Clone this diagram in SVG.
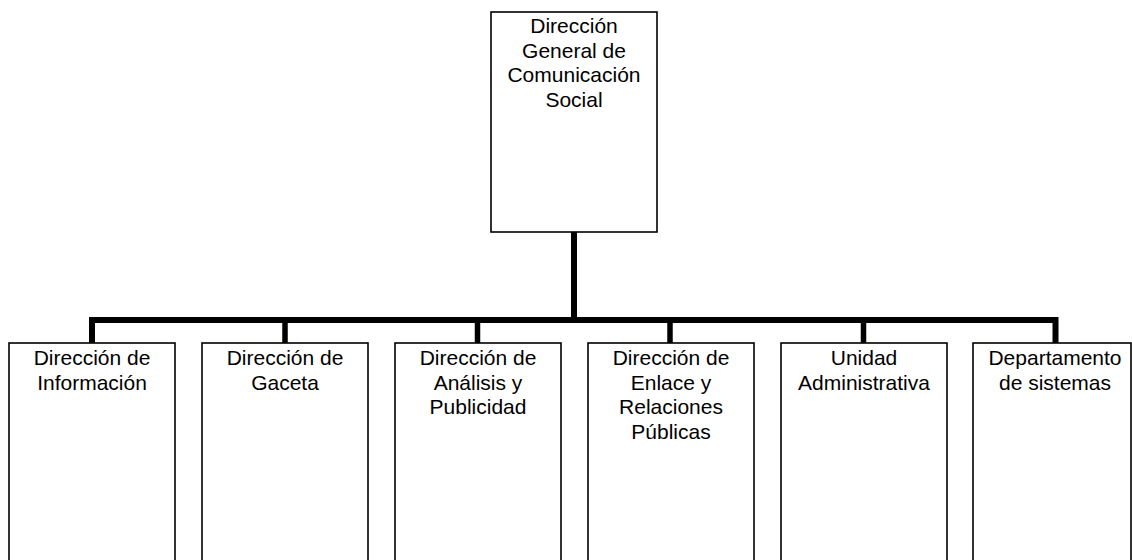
<svg xmlns="http://www.w3.org/2000/svg" width="1132" height="560" viewBox="0 0 1132 560">
<style>
.box{fill:#fff;stroke:#000;stroke-width:1.6}
.lbl{font-family:"Liberation Sans",Arial,sans-serif;font-size:21px;fill:#000;text-anchor:middle}
.con{fill:none;stroke:#000;stroke-width:6;stroke-linecap:butt;stroke-linejoin:miter}
.stub{fill:none;stroke:#000;stroke-width:5.5}
</style>
<rect width="1132" height="560" fill="#fff"/>
<g id="connectors">
<line class="con" x1="574" y1="232" x2="574" y2="323"/>
<polyline class="con" points="92,343 92,320 1055.5,320 1055.5,343"/>
<line class="stub" x1="285" y1="320" x2="285" y2="343"/>
<line class="stub" x1="477.5" y1="320" x2="477.5" y2="343"/>
<line class="stub" x1="670" y1="320" x2="670" y2="343"/>
<line class="stub" x1="863.5" y1="320" x2="863.5" y2="343"/>
</g>
<g id="n0">
<rect class="box" x="491" y="12" width="166" height="220"/>
<text class="lbl" x="574" y="33">Dirección</text>
<text class="lbl" x="574" y="57.6">General de</text>
<text class="lbl" x="574" y="82.2">Comunicación</text>
<text class="lbl" x="574" y="106.8">Social</text>
</g>
<g id="n1">
<rect class="box" x="9" y="343" width="166" height="230"/>
<text class="lbl" x="92" y="365">Dirección de</text>
<text class="lbl" x="92" y="389.5">Información</text>
</g>
<g id="n2">
<rect class="box" x="202" y="343" width="166" height="230"/>
<text class="lbl" x="285" y="365">Dirección de</text>
<text class="lbl" x="285" y="389.5">Gaceta</text>
</g>
<g id="n3">
<rect class="box" x="395" y="343" width="166" height="230"/>
<text class="lbl" x="478" y="365">Dirección de</text>
<text class="lbl" x="478" y="389.5">Análisis y</text>
<text class="lbl" x="478" y="414">Publicidad</text>
</g>
<g id="n4">
<rect class="box" x="588" y="343" width="166" height="230"/>
<text class="lbl" x="671" y="365">Dirección de</text>
<text class="lbl" x="671" y="389.5">Enlace y</text>
<text class="lbl" x="671" y="414">Relaciones</text>
<text class="lbl" x="671" y="438.5">Públicas</text>
</g>
<g id="n5">
<rect class="box" x="781" y="343" width="166" height="230"/>
<text class="lbl" x="864" y="365">Unidad</text>
<text class="lbl" x="864" y="389.5">Administrativa</text>
</g>
<g id="n6">
<rect class="box" x="973" y="343" width="158" height="230"/>
<text class="lbl" x="1055" y="365">Departamento</text>
<text class="lbl" x="1055" y="389.5">de sistemas</text>
</g>
</svg>
